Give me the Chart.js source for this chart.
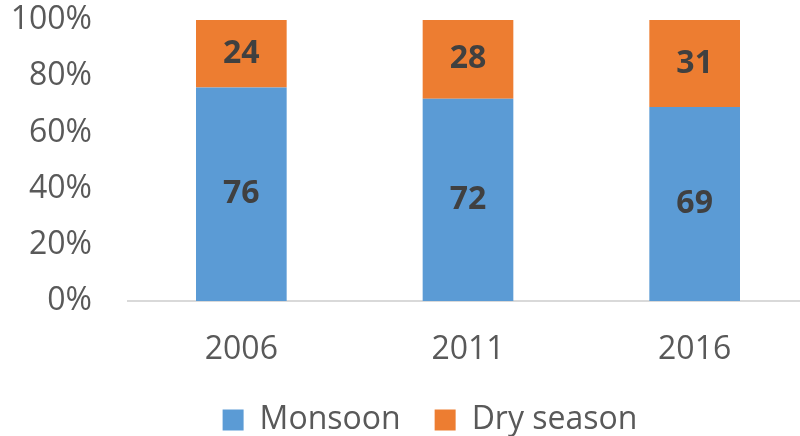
<!DOCTYPE html>
<html>
<head>
<meta charset="utf-8">
<script src="https://cdn.jsdelivr.net/npm/chart.js@4/dist/chart.umd.min.js"></script>
<style>
    body { margin: 0; overflow: hidden; background: #fff; }
    #wrap { width: 808px; height: 436px; position: relative; }
</style>
</head>
<body>
<div id="wrap"><canvas id="SeasonShareChart"></canvas></div>
<script>
const years = ['2006', '2011', '2016'];
const monsoon = [76, 72, 69];
const drySeason = [24, 28, 31];

const textColor = '#595959';
const fontFamily = '"Open Sans", "DejaVu Sans", sans-serif';

// draws the value in the middle of every bar segment
const barLabels = {
    id: 'barLabels',
    afterDatasetsDraw(chart) {
        const ctx = chart.ctx;
        ctx.save();
        ctx.font = `bold 32px ${fontFamily}`;
        ctx.fillStyle = '#404040';
        ctx.textAlign = 'center';
        ctx.textBaseline = 'middle';
        chart.data.datasets.forEach((ds, i) => {
            chart.getDatasetMeta(i).data.forEach((bar, j) => {
                const { x, y, base } = bar.getProps(['x', 'y', 'base'], true);
                ctx.fillText(ds.data[j], x, (y + base) / 2);
            });
        });
        ctx.restore();
    }
};

// nudge the legend a little to the right, like the original
const legendShift = {
    id: 'legendShift',
    afterLayout(chart) {
        chart.legend.left += 20;
        chart.legend.right += 20;
    }
};

const canvas = document
    .getElementById('SeasonShareChart')
    .getContext('2d');

new Chart(canvas, {
    type: 'bar',
    data: {
        labels: years,
        datasets: [
            {
                label: 'Monsoon',
                data: monsoon,
                backgroundColor: '#5B9BD5',
                borderWidth: 0
            },
            {
                label: 'Dry season',
                data: drySeason,
                backgroundColor: '#ED7D31',
                borderWidth: 0
            }
        ]
    },
    options: {
        responsive: true,
        maintainAspectRatio: false,
        animation: false,
        categoryPercentage: 0.4,
        barPercentage: 1,
        layout: {
            padding: { left: 12, right: 0, top: 0, bottom: 0 }
        },
        plugins: {
            tooltip: { enabled: false },
            legend: {
                position: 'bottom',
                maxHeight: 66,
                labels: {
                    color: textColor,
                    boxWidth: 21,
                    boxHeight: 21,
                    padding: 34,
                    font: { family: fontFamily, size: 32 }
                }
            }
        },
        scales: {
            x: {
                stacked: true,
                grid: { display: false, drawTicks: false },
                border: { display: true, color: '#d9d9d9', width: 2 },
                afterFit: (scale) => { scale.height = 69; },
                ticks: {
                    color: textColor,
                    padding: 30,
                    font: { family: fontFamily, size: 32 }
                }
            },
            y: {
                stacked: true,
                min: 0,
                max: 100,
                grid: { display: false, drawTicks: false },
                border: { display: false },
                afterFit: (scale) => {
                    scale.width = 116;
                    scale.paddingTop = 20;
                    scale.paddingBottom = 0;
                },
                ticks: {
                    color: textColor,
                    padding: 36,
                    stepSize: 20,
                    callback: (v) => v + '%',
                    font: { family: fontFamily, size: 32 }
                }
            }
        }
    },
    plugins: [barLabels, legendShift]
});
</script>
</body>
</html>
